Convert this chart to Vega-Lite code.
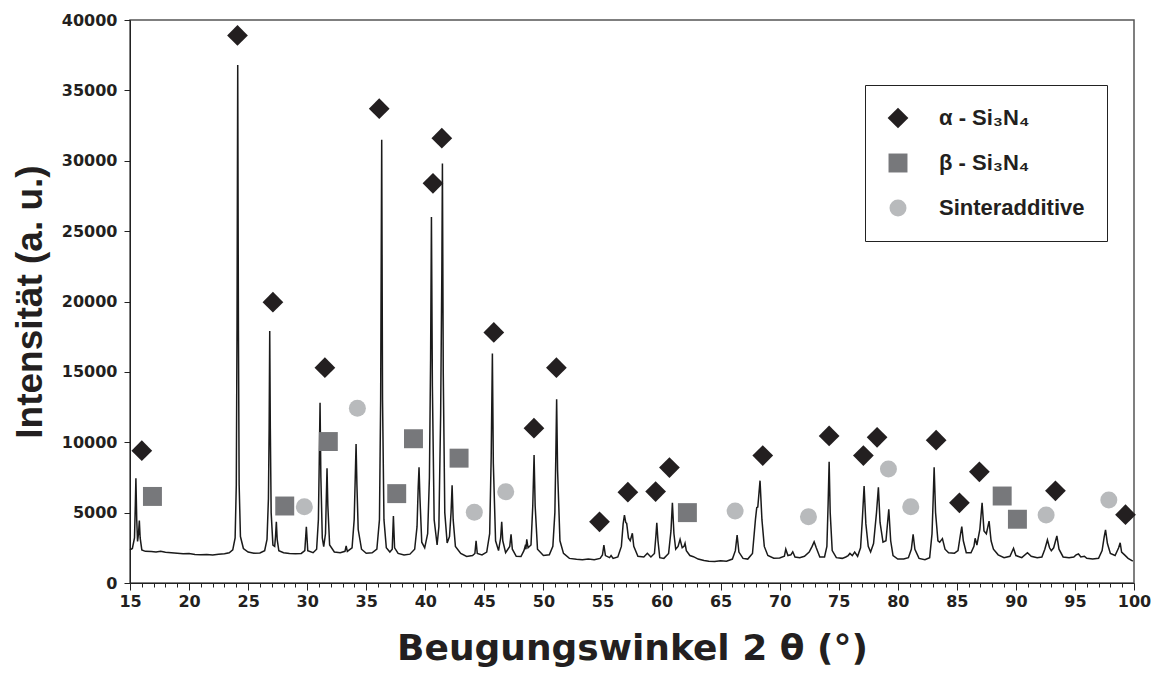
{
  "$schema": "https://vega.github.io/schema/vega-lite/v6.json",
  "width": 1004,
  "height": 563,
  "autosize": {"type": "none"},
  "padding": {"left": 130, "top": 20, "right": 22, "bottom": 92},
  "background": "white",
  "config": {"view": {"stroke": "#555555", "strokeWidth": 1.5}, "font": "Liberation Sans"},
  "resolve": {"axis": {"x": "independent"}},
  "datasets": {
    "xrd": [
      {"t":15.0,"i":2350},{"t":15.2,"i":2450},{"t":15.38,"i":3200},{"t":15.45,"i":5500},{"t":15.5,"i":7440},{"t":15.57,"i":4500},{"t":15.64,"i":2950},{"t":15.72,"i":3500},{"t":15.79,"i":4430},{"t":15.86,"i":3200},{"t":16.0,"i":2350},{"t":16.3,"i":2250},{"t":16.8,"i":2230},{"t":17.2,"i":2200},{"t":17.6,"i":2250},{"t":18.0,"i":2180},{"t":18.5,"i":2150},{"t":19.0,"i":2120},{"t":19.5,"i":2080},{"t":20.0,"i":2100},{"t":20.5,"i":2030},{"t":21.0,"i":2000},{"t":21.5,"i":2020},{"t":22.0,"i":1990},{"t":22.5,"i":2050},{"t":23.0,"i":2080},{"t":23.4,"i":2150},{"t":23.7,"i":2350},{"t":23.9,"i":3200},{"t":24.0,"i":7000},{"t":24.06,"i":18000},{"t":24.12,"i":36800},{"t":24.18,"i":18000},{"t":24.24,"i":7000},{"t":24.35,"i":3300},{"t":24.6,"i":2450},{"t":25.0,"i":2200},{"t":25.5,"i":2120},{"t":26.0,"i":2130},{"t":26.4,"i":2300},{"t":26.6,"i":3100},{"t":26.72,"i":6000},{"t":26.78,"i":11000},{"t":26.83,"i":17900},{"t":26.88,"i":11000},{"t":26.95,"i":5000},{"t":27.1,"i":2700},{"t":27.25,"i":2600},{"t":27.32,"i":3300},{"t":27.39,"i":4350},{"t":27.46,"i":3100},{"t":27.6,"i":2300},{"t":28.0,"i":2150},{"t":28.5,"i":2100},{"t":29.0,"i":2080},{"t":29.5,"i":2100},{"t":29.8,"i":2300},{"t":29.93,"i":4000},{"t":30.05,"i":2300},{"t":30.5,"i":2150},{"t":30.8,"i":2400},{"t":30.95,"i":4500},{"t":31.02,"i":8500},{"t":31.09,"i":12800},{"t":31.16,"i":7500},{"t":31.28,"i":3200},{"t":31.4,"i":2580},{"t":31.55,"i":3500},{"t":31.62,"i":6000},{"t":31.68,"i":8150},{"t":31.75,"i":5500},{"t":31.9,"i":2700},{"t":32.3,"i":2200},{"t":32.8,"i":2150},{"t":33.2,"i":2250},{"t":33.3,"i":2630},{"t":33.4,"i":2250},{"t":33.8,"i":2500},{"t":33.98,"i":4500},{"t":34.07,"i":7500},{"t":34.14,"i":9880},{"t":34.21,"i":7000},{"t":34.32,"i":3800},{"t":34.6,"i":2400},{"t":35.0,"i":2110},{"t":35.5,"i":2150},{"t":35.9,"i":2400},{"t":36.12,"i":4500},{"t":36.22,"i":13000},{"t":36.31,"i":31500},{"t":36.38,"i":13000},{"t":36.5,"i":4500},{"t":36.7,"i":2500},{"t":37.0,"i":2200},{"t":37.2,"i":2400},{"t":37.3,"i":4760},{"t":37.4,"i":2500},{"t":37.7,"i":2100},{"t":38.2,"i":1990},{"t":38.7,"i":2050},{"t":39.1,"i":2400},{"t":39.3,"i":4000},{"t":39.4,"i":6800},{"t":39.47,"i":8220},{"t":39.55,"i":6000},{"t":39.7,"i":2900},{"t":39.95,"i":2500},{"t":40.2,"i":3500},{"t":40.35,"i":7500},{"t":40.45,"i":16000},{"t":40.52,"i":26000},{"t":40.6,"i":14000},{"t":40.75,"i":4500},{"t":41.0,"i":2700},{"t":41.15,"i":4000},{"t":41.3,"i":12000},{"t":41.4,"i":22000},{"t":41.45,"i":29800},{"t":41.52,"i":15000},{"t":41.65,"i":5000},{"t":41.85,"i":2840},{"t":42.05,"i":3300},{"t":42.18,"i":5000},{"t":42.27,"i":6940},{"t":42.36,"i":4500},{"t":42.55,"i":2600},{"t":43.0,"i":2100},{"t":43.5,"i":1880},{"t":44.0,"i":1950},{"t":44.2,"i":2100},{"t":44.3,"i":3000},{"t":44.4,"i":2100},{"t":44.8,"i":2000},{"t":45.2,"i":2200},{"t":45.45,"i":3500},{"t":45.58,"i":9000},{"t":45.68,"i":16300},{"t":45.76,"i":8500},{"t":45.95,"i":3000},{"t":46.2,"i":2300},{"t":46.38,"i":3200},{"t":46.47,"i":4350},{"t":46.56,"i":3000},{"t":46.8,"i":2150},{"t":47.15,"i":2600},{"t":47.26,"i":3460},{"t":47.37,"i":2400},{"t":47.7,"i":1900},{"t":48.1,"i":1880},{"t":48.35,"i":2300},{"t":48.45,"i":2600},{"t":48.52,"i":2400},{"t":48.59,"i":3100},{"t":48.7,"i":2500},{"t":48.95,"i":2700},{"t":49.1,"i":5500},{"t":49.21,"i":9090},{"t":49.3,"i":5500},{"t":49.5,"i":2400},{"t":50.0,"i":1950},{"t":50.5,"i":2000},{"t":50.8,"i":2600},{"t":50.97,"i":5000},{"t":51.05,"i":9000},{"t":51.12,"i":13050},{"t":51.2,"i":8000},{"t":51.4,"i":3000},{"t":51.7,"i":2100},{"t":52.2,"i":1750},{"t":52.8,"i":1680},{"t":53.3,"i":1650},{"t":53.8,"i":1700},{"t":54.3,"i":1660},{"t":54.8,"i":1750},{"t":55.0,"i":2000},{"t":55.12,"i":2700},{"t":55.25,"i":1950},{"t":55.6,"i":1800},{"t":55.73,"i":1950},{"t":55.9,"i":1750},{"t":56.3,"i":1850},{"t":56.6,"i":2600},{"t":56.75,"i":4200},{"t":56.86,"i":4830},{"t":56.97,"i":4300},{"t":57.05,"i":4240},{"t":57.2,"i":3200},{"t":57.35,"i":3000},{"t":57.53,"i":3530},{"t":57.65,"i":2600},{"t":58.0,"i":1900},{"t":58.5,"i":1850},{"t":58.8,"i":2110},{"t":59.1,"i":1850},{"t":59.4,"i":2100},{"t":59.52,"i":3300},{"t":59.6,"i":4280},{"t":59.7,"i":3000},{"t":59.85,"i":1800},{"t":60.2,"i":1750},{"t":60.6,"i":2100},{"t":60.8,"i":3700},{"t":60.92,"i":5700},{"t":61.05,"i":3500},{"t":61.2,"i":2400},{"t":61.4,"i":2600},{"t":61.57,"i":3100},{"t":61.75,"i":2500},{"t":61.9,"i":2600},{"t":61.99,"i":2820},{"t":62.1,"i":2300},{"t":62.4,"i":1950},{"t":62.7,"i":1870},{"t":63.1,"i":1700},{"t":63.6,"i":1600},{"t":64.0,"i":1550},{"t":64.5,"i":1520},{"t":65.0,"i":1580},{"t":65.5,"i":1550},{"t":66.0,"i":1700},{"t":66.25,"i":2300},{"t":66.4,"i":3410},{"t":66.55,"i":2200},{"t":66.9,"i":1750},{"t":67.3,"i":1700},{"t":67.7,"i":2100},{"t":67.95,"i":4500},{"t":68.06,"i":5350},{"t":68.15,"i":5400},{"t":68.34,"i":7270},{"t":68.5,"i":4500},{"t":68.7,"i":2600},{"t":69.0,"i":1950},{"t":69.5,"i":1760},{"t":70.0,"i":1780},{"t":70.4,"i":1900},{"t":70.52,"i":2400},{"t":70.7,"i":1950},{"t":70.95,"i":2000},{"t":71.11,"i":2220},{"t":71.3,"i":1850},{"t":71.7,"i":1800},{"t":72.1,"i":1900},{"t":72.5,"i":2200},{"t":72.75,"i":2600},{"t":72.92,"i":2930},{"t":73.1,"i":2500},{"t":73.4,"i":1850},{"t":73.8,"i":1850},{"t":74.0,"i":2600},{"t":74.1,"i":5500},{"t":74.19,"i":8620},{"t":74.28,"i":5000},{"t":74.45,"i":2300},{"t":74.8,"i":1800},{"t":75.3,"i":1750},{"t":75.6,"i":1850},{"t":75.8,"i":1950},{"t":75.95,"i":2100},{"t":76.15,"i":1950},{"t":76.35,"i":2200},{"t":76.6,"i":1900},{"t":76.85,"i":2500},{"t":77.0,"i":4500},{"t":77.15,"i":6890},{"t":77.3,"i":4200},{"t":77.5,"i":2600},{"t":77.7,"i":2200},{"t":77.95,"i":2800},{"t":78.2,"i":5000},{"t":78.36,"i":6800},{"t":78.5,"i":4300},{"t":78.75,"i":2900},{"t":79.0,"i":3000},{"t":79.24,"i":5240},{"t":79.4,"i":3000},{"t":79.6,"i":1950},{"t":80.0,"i":1700},{"t":80.5,"i":1700},{"t":80.9,"i":1800},{"t":81.15,"i":2400},{"t":81.3,"i":3460},{"t":81.45,"i":2400},{"t":81.8,"i":1750},{"t":82.3,"i":1650},{"t":82.7,"i":1800},{"t":82.9,"i":3500},{"t":83.0,"i":6000},{"t":83.08,"i":8220},{"t":83.2,"i":5000},{"t":83.4,"i":3000},{"t":83.55,"i":2900},{"t":83.78,"i":3150},{"t":84.0,"i":2400},{"t":84.3,"i":2150},{"t":84.8,"i":2120},{"t":85.1,"i":2300},{"t":85.3,"i":3400},{"t":85.42,"i":4000},{"t":85.55,"i":3000},{"t":85.8,"i":2150},{"t":86.2,"i":2150},{"t":86.45,"i":2600},{"t":86.55,"i":3180},{"t":86.7,"i":2700},{"t":86.95,"i":3800},{"t":87.14,"i":5700},{"t":87.3,"i":3700},{"t":87.5,"i":3500},{"t":87.73,"i":4400},{"t":87.9,"i":3000},{"t":88.1,"i":2400},{"t":88.5,"i":2000},{"t":89.0,"i":1800},{"t":89.5,"i":1900},{"t":89.8,"i":2470},{"t":90.0,"i":1950},{"t":90.5,"i":1800},{"t":90.98,"i":2150},{"t":91.3,"i":1900},{"t":91.8,"i":1800},{"t":92.2,"i":1850},{"t":92.45,"i":2400},{"t":92.67,"i":3060},{"t":92.85,"i":2500},{"t":93.0,"i":2300},{"t":93.2,"i":2500},{"t":93.47,"i":3340},{"t":93.65,"i":2400},{"t":94.0,"i":1850},{"t":94.5,"i":1800},{"t":94.9,"i":1850},{"t":95.1,"i":2000},{"t":95.3,"i":2060},{"t":95.5,"i":1850},{"t":95.8,"i":1900},{"t":96.0,"i":1750},{"t":96.5,"i":1700},{"t":97.0,"i":1750},{"t":97.3,"i":2300},{"t":97.48,"i":3300},{"t":97.59,"i":3770},{"t":97.75,"i":2800},{"t":98.0,"i":2100},{"t":98.4,"i":1950},{"t":98.7,"i":2500},{"t":98.83,"i":2860},{"t":98.95,"i":2200},{"t":99.2,"i":2000},{"t":99.5,"i":1750},{"t":99.9,"i":1560}
    ],
    "peaks": [
      {"t":16.0,"i":9400,"phase":"α - Si₃N₄"},{"t":24.1,"i":38900,"phase":"α - Si₃N₄"},{"t":27.1,"i":19950,"phase":"α - Si₃N₄"},{"t":31.5,"i":15300,"phase":"α - Si₃N₄"},{"t":36.1,"i":33700,"phase":"α - Si₃N₄"},{"t":40.65,"i":28400,"phase":"α - Si₃N₄"},{"t":41.4,"i":31600,"phase":"α - Si₃N₄"},{"t":45.8,"i":17800,"phase":"α - Si₃N₄"},{"t":49.2,"i":11000,"phase":"α - Si₃N₄"},{"t":51.1,"i":15300,"phase":"α - Si₃N₄"},{"t":54.75,"i":4350,"phase":"α - Si₃N₄"},{"t":57.15,"i":6450,"phase":"α - Si₃N₄"},{"t":59.5,"i":6500,"phase":"α - Si₃N₄"},{"t":60.67,"i":8200,"phase":"α - Si₃N₄"},{"t":68.57,"i":9050,"phase":"α - Si₃N₄"},{"t":74.19,"i":10450,"phase":"α - Si₃N₄"},{"t":77.09,"i":9050,"phase":"α - Si₃N₄"},{"t":78.25,"i":10350,"phase":"α - Si₃N₄"},{"t":83.25,"i":10150,"phase":"α - Si₃N₄"},{"t":85.22,"i":5700,"phase":"α - Si₃N₄"},{"t":86.91,"i":7900,"phase":"α - Si₃N₄"},{"t":93.35,"i":6550,"phase":"α - Si₃N₄"},{"t":99.28,"i":4850,"phase":"α - Si₃N₄"},
      {"t":16.9,"i":6150,"phase":"β - Si₃N₄"},{"t":28.1,"i":5470,"phase":"β - Si₃N₄"},{"t":31.79,"i":10050,"phase":"β - Si₃N₄"},{"t":37.58,"i":6350,"phase":"β - Si₃N₄"},{"t":39.0,"i":10250,"phase":"β - Si₃N₄"},{"t":42.86,"i":8870,"phase":"β - Si₃N₄"},{"t":62.19,"i":5000,"phase":"β - Si₃N₄"},{"t":88.84,"i":6180,"phase":"β - Si₃N₄"},{"t":90.13,"i":4530,"phase":"β - Si₃N₄"},
      {"t":29.76,"i":5420,"phase":"Sinteradditive"},{"t":34.25,"i":12420,"phase":"Sinteradditive"},{"t":44.15,"i":5030,"phase":"Sinteradditive"},{"t":46.81,"i":6480,"phase":"Sinteradditive"},{"t":66.23,"i":5120,"phase":"Sinteradditive"},{"t":72.44,"i":4710,"phase":"Sinteradditive"},{"t":79.21,"i":8100,"phase":"Sinteradditive"},{"t":81.1,"i":5420,"phase":"Sinteradditive"},{"t":92.56,"i":4830,"phase":"Sinteradditive"},{"t":97.87,"i":5900,"phase":"Sinteradditive"}
    ]
  },
  "layer": [
    {
      "data": {"name": "xrd"},
      "mark": {"type": "line", "color": "#1a1a1a", "strokeWidth": 1.5},
      "encoding": {
        "x": {
          "field": "t", "type": "quantitative",
          "scale": {"domain": [15, 100], "nice": false, "zero": false},
          "axis": {
            "orient": "bottom",
            "title": "Beugungswinkel 2 θ (°)",
            "values": [15,20,25,30,35,40,45,50,55,60,65,70,75,80,85,90,95,100],
            "labelOverlap": false,
            "labelFlush": false,
            "grid": false,
            "domainColor": "#222222",
            "tickColor": "#222222",
            "tickSize": 7,
            "labelFont": "DejaVu Sans", "labelFontSize": 16, "labelFontWeight": "bold", "labelColor": "#231f20", "labelPadding": 3,
            "titleFont": "DejaVu Sans", "titleFontSize": 36, "titleFontWeight": "bold", "titleColor": "#231f20", "titlePadding": 22
          }
        },
        "y": {
          "field": "i", "type": "quantitative",
          "scale": {"domain": [0, 40000], "nice": false},
          "axis": {
            "title": "Intensität (a. u.)",
            "values": [0,5000,10000,15000,20000,25000,30000,35000,40000],
            "format": "d",
            "grid": false,
            "domainColor": "#222222",
            "tickColor": "#222222",
            "tickSize": 6,
            "labelFont": "DejaVu Sans", "labelFontSize": 16, "labelFontWeight": "bold", "labelColor": "#231f20", "labelPadding": 7,
            "titleFont": "Liberation Sans", "titleFontSize": 37, "titleFontWeight": "bold", "titleColor": "#231f20", "titlePadding": 12
          }
        }
      }
    },
    {
      "data": {"name": "peaks"},
      "mark": {"type": "point", "filled": true, "opacity": 1, "strokeWidth": 0},
      "encoding": {
        "x": {
          "field": "t", "type": "quantitative",
          "axis": {
            "orient": "bottom",
            "title": null,
            "values": [16,17,18,19,21,22,23,24,26,27,28,29,31,32,33,34,36,37,38,39,41,42,43,44,46,47,48,49,51,52,53,54,56,57,58,59,61,62,63,64,66,67,68,69,71,72,73,74,76,77,78,79,81,82,83,84,86,87,88,89,91,92,93,94,96,97,98,99],
            "labels": false,
            "domain": false,
            "grid": false,
            "tickColor": "#222222",
            "tickSize": 4
          }
        },
        "y": {"field": "i", "type": "quantitative"},
        "shape": {
          "field": "phase", "type": "nominal",
          "scale": {"domain": ["α - Si₃N₄", "β - Si₃N₄", "Sinteradditive"], "range": ["diamond", "square", "circle"]},
          "legend": {
            "title": null, "orient": "none", "legendX": 735, "legendY": 65,
            "padding": 22, "strokeColor": "#222222", "fillColor": "white",
            "labelFont": "Liberation Sans", "labelFontSize": 22, "labelFontWeight": "bold", "labelColor": "#231f20",
            "labelOffset": 30, "rowPadding": 23, "labelLimit": 400, "symbolStrokeWidth": 0
          }
        },
        "color": {
          "field": "phase", "type": "nominal",
          "scale": {"domain": ["α - Si₃N₄", "β - Si₃N₄", "Sinteradditive"], "range": ["#231f20", "#77787b", "#b8babc"]}
        },
        "size": {
          "field": "phase", "type": "nominal",
          "scale": {"domain": ["α - Si₃N₄", "β - Si₃N₄", "Sinteradditive"], "range": [430, 289, 324]}
        }
      }
    }
  ]
}
